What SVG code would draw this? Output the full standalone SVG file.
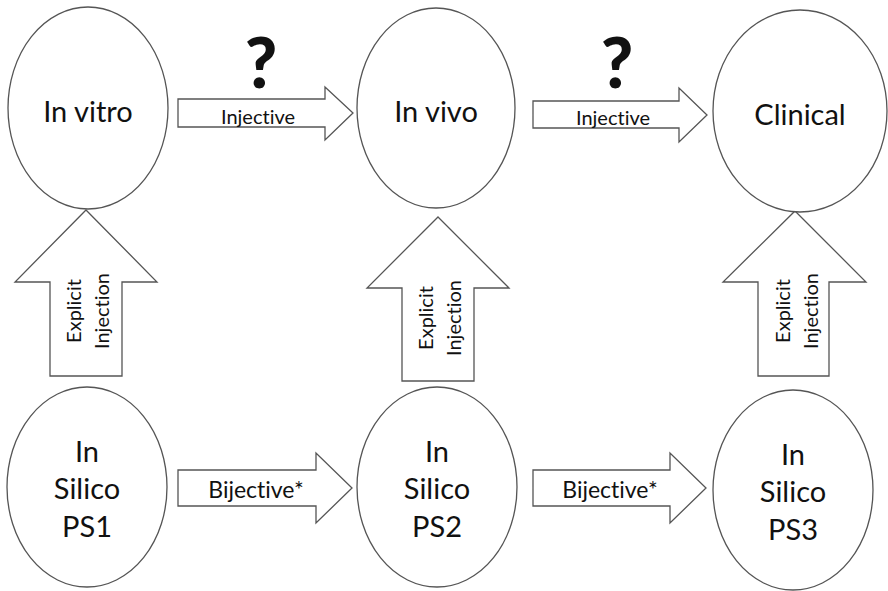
<svg xmlns="http://www.w3.org/2000/svg" width="888" height="591" viewBox="0 0 888 591">
<style>
text{font-family:Lato,"Open Sans",sans-serif;font-variant-ligatures:none;font-feature-settings:"liga" 0;fill:#111;text-anchor:middle}
.node{fill:#fff;stroke:#555;stroke-width:1.3}
.arr{fill:#fff;stroke:#555;stroke-width:1.3;stroke-linejoin:miter}
.big{font-size:29px}
.lbl{font-size:20px}
.bij{font-size:23px}
.q{font-weight:900;font-size:70px}
</style>
<rect width="888" height="591" fill="#fff"/>
<g id="connectors">
  <g id="inj1">
    <polygon class="arr" points="178,99 325,99 325,87 353,113 325,140 325,127 178,127"/>
    <text class="lbl" x="258" y="124">Injective</text>
    <text class="q" x="261" y="88">?</text>
  </g>
  <g id="inj2">
    <polygon class="arr" points="533,101 679,101 679,88 707,115 679,142 679,128 533,128"/>
    <text class="lbl" x="613" y="125">Injective</text>
    <text class="q" x="617" y="88">?</text>
  </g>
  <g id="bij1">
    <polygon class="arr" points="178,470 316,470 316,453 352,488 316,523 316,506 178,506"/>
    <text class="bij" x="256" y="498">Bijective*</text>
  </g>
  <g id="bij2">
    <polygon class="arr" points="533,470 670,470 670,453 706,488 670,523 670,506 533,506"/>
    <text class="bij" x="610" y="498">Bijective*</text>
  </g>
  <g id="up1">
    <polygon class="arr" points="86,210 157,282 122,282 122,376 50,376 50,282 15,282"/>
    <text class="lbl" transform="translate(81,311) rotate(-90)">Explicit</text>
    <text class="lbl" transform="translate(109,311) rotate(-90)">Injection</text>
  </g>
  <g id="up2">
    <polygon class="arr" points="438,217 509,288 474,288 474,381 402,381 402,288 367,288"/>
    <text class="lbl" transform="translate(433,318) rotate(-90)">Explicit</text>
    <text class="lbl" transform="translate(461,318) rotate(-90)">Injection</text>
  </g>
  <g id="up3">
    <polygon class="arr" points="795,211 866,282 829,282 829,376 758,376 758,282 723,282"/>
    <text class="lbl" transform="translate(790,311) rotate(-90)">Explicit</text>
    <text class="lbl" transform="translate(818,311) rotate(-90)">Injection</text>
  </g>
</g>
<g id="invitro">
  <ellipse class="node" cx="88" cy="108" rx="80" ry="101"/>
  <text class="big" x="88" y="122">In vitro</text>
</g>
<g id="invivo">
  <ellipse class="node" cx="436" cy="108" rx="79" ry="100"/>
  <text class="big" x="436" y="122">In vivo</text>
</g>
<g id="clinical">
  <ellipse class="node" cx="800" cy="111" rx="87" ry="101"/>
  <text class="big" x="800" y="125">Clinical</text>
</g>
<g id="ps1">
  <ellipse class="node" cx="87" cy="487" rx="80" ry="100"/>
  <text class="big" x="87" y="462">In</text>
  <text class="big" x="87" y="499">Silico</text>
  <text class="big" x="87" y="537">PS1</text>
</g>
<g id="ps2">
  <ellipse class="node" cx="437" cy="487" rx="80" ry="100"/>
  <text class="big" x="437" y="462">In</text>
  <text class="big" x="437" y="499">Silico</text>
  <text class="big" x="437" y="537">PS2</text>
</g>
<g id="ps3">
  <ellipse class="node" cx="793" cy="490" rx="80" ry="100"/>
  <text class="big" x="793" y="465">In</text>
  <text class="big" x="793" y="502">Silico</text>
  <text class="big" x="793" y="540">PS3</text>
</g>
</svg>
